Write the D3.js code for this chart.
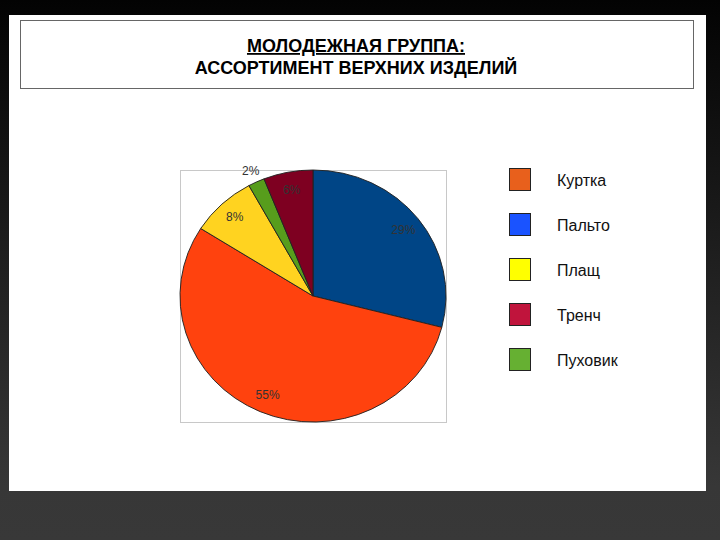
<!DOCTYPE html>
<html>
<head>
<meta charset="utf-8">
<script src="https://cdn.jsdelivr.net/npm/d3@7"></script>
<style>
  html, body { margin: 0; padding: 0; background: #000; }
  svg { display: block; }
</style>
</head>
<body>
<div id="chart"></div>
<script>
// chart data
var categories = ["Куртка", "Пальто", "Плащ", "Тренч", "Пуховик"];
var shares = [55, 29, 8, 6, 2];
var pieOrder = ["Пальто", "Куртка", "Плащ", "Пуховик", "Тренч"];
var sliceColors = ["#ff420e", "#004586", "#ffd320", "#7e0021", "#579d1c"];
var legendColors = ["#e8601c", "#1a53ff", "#ffff00", "#c0143c", "#66b032"];
var titleLines = ["МОЛОДЕЖНАЯ ГРУППА:", "АССОРТИМЕНТ ВЕРХНИХ ИЗДЕЛИЙ"];

var width = 720,
  height = 540;

var svg = d3
  .select("#chart")
  .append("svg")
  .attr("width", width)
  .attr("height", height);

// dark slide background
var defs = svg.append("defs");
var grad = defs
  .append("linearGradient")
  .attr("id", "bg")
  .attr("x1", 0)
  .attr("y1", 0)
  .attr("x2", 0)
  .attr("y2", 1);
grad.append("stop").attr("offset", "0%").attr("stop-color", "#030303");
grad.append("stop").attr("offset", "90%").attr("stop-color", "#373737");
grad.append("stop").attr("offset", "100%").attr("stop-color", "#383838");

svg.append("rect").attr("width", width).attr("height", height).attr("fill", "url(#bg)");

// white page
svg
  .append("rect")
  .attr("x", 9)
  .attr("y", 15)
  .attr("width", 697)
  .attr("height", 476)
  .attr("fill", "#fff");

// title box
svg
  .append("rect")
  .attr("x", 20.5)
  .attr("y", 20.5)
  .attr("width", 673)
  .attr("height", 68)
  .attr("fill", "#fff")
  .attr("stroke", "#666")
  .attr("stroke-width", 1);

var titleFont = "'Liberation Sans', Arial, sans-serif";
svg
  .selectAll(".title")
  .data(titleLines)
  .enter()
  .append("text")
  .attr("class", "title")
  .attr("x", 356)
  .attr("y", function (d, i) {
    return 52 + i * 22;
  })
  .attr("text-anchor", "middle")
  .attr("font-family", titleFont)
  .attr("font-weight", "bold")
  .attr("font-size", 18)
  .attr("text-decoration", function (d, i) {
    return i === 0 ? "underline" : null;
  })
  .text(function (d) {
    return d;
  });

// pie plot area
var frame = { x: 180, y: 170, w: 266, h: 252 };
svg
  .append("rect")
  .attr("x", frame.x + 0.5)
  .attr("y", frame.y + 0.5)
  .attr("width", frame.w)
  .attr("height", frame.h)
  .attr("fill", "none")
  .attr("stroke", "#c8c8c8");

var cx = frame.x + frame.w / 2,
  cy = frame.y + frame.h / 2;
var rx = frame.w / 2,
  ry = frame.h / 2;
var r = ry;

var pieData = pieOrder.map(function (name) {
  var i = categories.indexOf(name);
  return { name: name, value: shares[i], color: sliceColors[i] };
});

var pie = d3
  .pie()
  .sort(null)
  .value(function (d) {
    return d.value;
  });
var arcs = pie(pieData);

var arc = d3.arc().innerRadius(0).outerRadius(r);
var labelArc = d3.arc().innerRadius(r * 0.86).outerRadius(r * 0.86);
var outerArc = d3.arc().innerRadius(r * 1.1).outerRadius(r * 1.1);

var g = svg
  .append("g")
  .attr("transform", "translate(" + cx + "," + cy + ") scale(" + rx / ry + ",1)");

g.selectAll(".slice")
  .data(arcs)
  .enter()
  .append("path")
  .attr("class", "slice")
  .attr("d", arc)
  .attr("fill", function (d) {
    return d.data.color;
  })
  .attr("stroke", "#222")
  .attr("stroke-width", 0.9);

var lg = svg.append("g").attr("transform", "translate(" + cx + "," + cy + ")");
lg.selectAll(".plabel")
  .data(arcs)
  .enter()
  .append("text")
  .attr("class", "plabel")
  .attr("transform", function (d) {
    var c = d.data.value < 3 ? outerArc.centroid(d) : labelArc.centroid(d);
    return "translate(" + c[0] * (rx / ry) + "," + (c[1] + 4) + ")";
  })
  .attr("text-anchor", "middle")
  .attr("font-family", "'Liberation Sans', Arial, sans-serif")
  .attr("font-size", 12)
  .attr("fill", "#333")
  .text(function (d) {
    return d.data.value + "%";
  });

// legend
var legend = svg
  .selectAll(".legend")
  .data(categories)
  .enter()
  .append("g")
  .attr("class", "legend")
  .attr("transform", function (d, i) {
    return "translate(509," + (168 + i * 45) + ")";
  });

legend
  .append("rect")
  .attr("x", 0.5)
  .attr("y", 0.5)
  .attr("width", 21)
  .attr("height", 22)
  .attr("fill", function (d, i) {
    return legendColors[i];
  })
  .attr("stroke", "#222")
  .attr("stroke-width", 1);

legend
  .append("text")
  .attr("x", 48)
  .attr("y", 18)
  .attr("font-family", "'Liberation Sans', Arial, sans-serif")
  .attr("font-size", 16)
  .attr("fill", "#111")
  .text(function (d) {
    return d;
  });
</script>
</body>
</html>
